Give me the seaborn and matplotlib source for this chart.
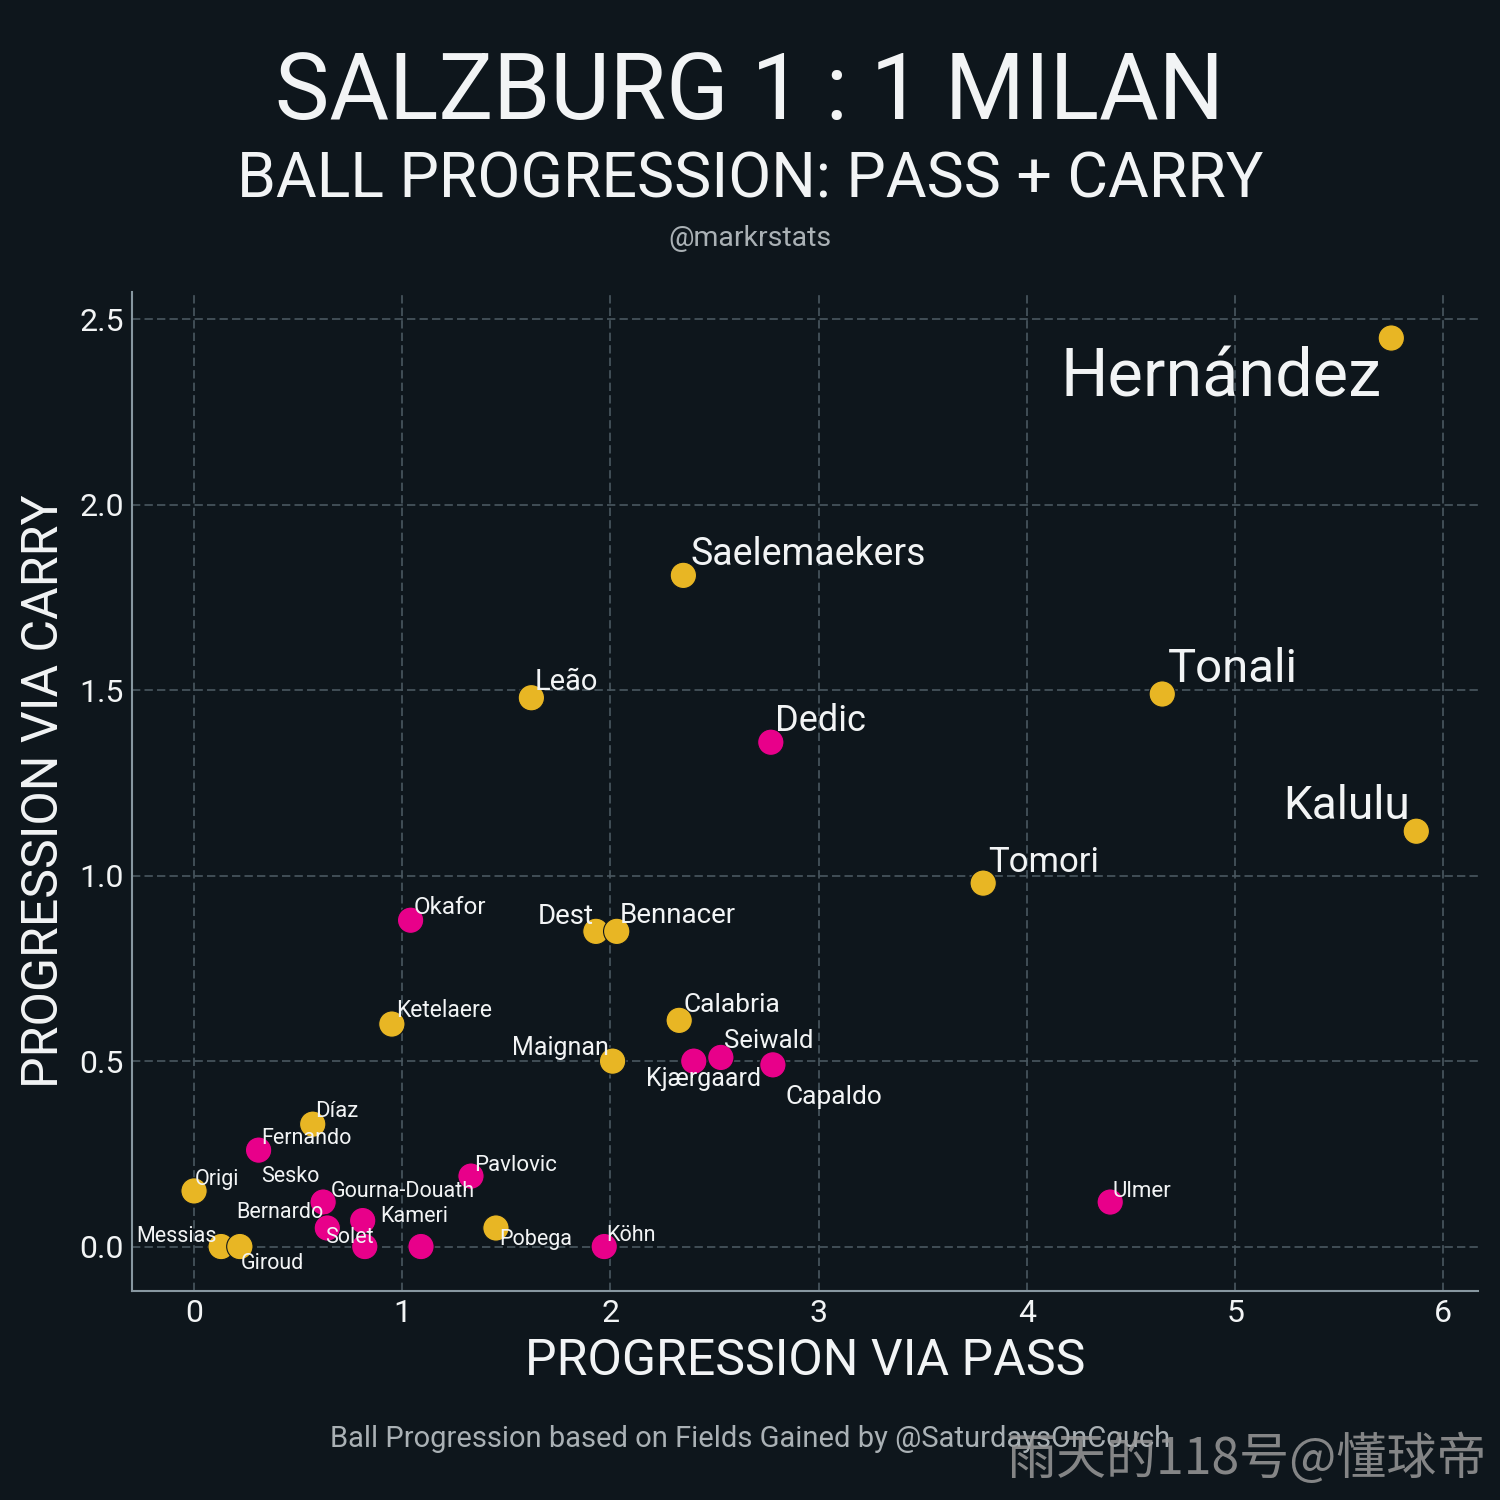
import pandas as pd
import seaborn as sns
import matplotlib.pyplot as plt

# Data
players = ["Hernández", "Saelemaekers", "Leão", "Tonali", "Dedic", "Kalulu",
           "Tomori", "Okafor", "Dest", "Bennacer", "Ketelaere", "Calabria",
           "Maignan", "Kjærgaard", "Seiwald", "Capaldo", "Díaz", "Fernando",
           "Origi", "Messias", "Giroud", "Sesko", "Gourna-Douath", "Bernardo",
           "Solet", "Kameri", "Pavlovic", "Pobega", "Köhn", "Ulmer"]
teams = ["Milan", "Milan", "Milan", "Milan", "Salzburg", "Milan",
         "Milan", "Salzburg", "Milan", "Milan", "Milan", "Milan",
         "Milan", "Salzburg", "Salzburg", "Salzburg", "Milan", "Salzburg",
         "Milan", "Milan", "Milan", "Salzburg", "Salzburg", "Salzburg",
         "Salzburg", "Salzburg", "Salzburg", "Milan", "Salzburg", "Salzburg"]
via_pass = [5.75, 2.35, 1.62, 4.65, 2.77, 5.87,
            3.79, 1.04, 1.93, 2.03, 0.95, 2.33,
            2.01, 2.40, 2.53, 2.78, 0.57, 0.31,
            0.00, 0.13, 0.22, 0.62, 0.81, 0.64,
            0.82, 1.09, 1.33, 1.45, 1.97, 4.40]
via_carry = [2.45, 1.81, 1.48, 1.49, 1.36, 1.12,
             0.98, 0.88, 0.85, 0.85, 0.60, 0.61,
             0.50, 0.50, 0.51, 0.49, 0.33, 0.26,
             0.15, 0.00, 0.00, 0.12, 0.07, 0.05,
             0.00, 0.00, 0.19, 0.05, 0.00, 0.12]

df = pd.DataFrame({"player": players, "team": teams,
                   "pass": via_pass, "carry": via_carry})

# Label styling: font size and placement (ha, dx px, dy px)
label_size = {"Hernández": 48, "Tonali": 34, "Kalulu": 33, "Tomori": 25,
              "Saelemaekers": 27, "Dedic": 26, "Leão": 21, "Dest": 20,
              "Bennacer": 20, "Okafor": 17.5, "Calabria": 19, "Maignan": 18,
              "Kjærgaard": 18, "Seiwald": 18.5, "Capaldo": 19, "Ketelaere": 16.5,
              "Pavlovic": 16, "Köhn": 15.5, "Ulmer": 16, "Díaz": 16}
label_pos = {"Hernández": ("right", -10, -58), "Saelemaekers": ("left", 7, 10),
             "Leão": ("left", 3, 8), "Tonali": ("left", 6, 12),
             "Dedic": ("left", 4, 11), "Kalulu": ("right", -6, 12),
             "Tomori": ("left", 5, 11), "Okafor": ("left", 3, 6),
             "Dest": ("right", -2, 7), "Bennacer": ("left", 3, 8),
             "Ketelaere": ("left", 4, 7), "Calabria": ("left", 4, 8),
             "Maignan": ("right", -4, 6), "Kjærgaard": ("left", -48, -25),
             "Seiwald": ("left", 3, 9), "Capaldo": ("left", 13, -39),
             "Pobega": ("left", 3, -17), "Köhn": ("left", 2, 6),
             "Pavlovic": ("left", 3, 5), "Díaz": ("left", 2, 7),
             "Fernando": ("left", 3, 6), "Origi": ("left", 1, 6),
             "Messias": ("right", -4, 5), "Giroud": ("left", 1, -22),
             "Ulmer": ("left", 2, 5), "Sesko": ("left", -62, 20),
             "Gourna-Douath": ("left", -32, 24), "Bernardo": ("right", -4, 10),
             "Solet": ("left", -40, 4), "Kameri": ("left", -41, 25)}

bg = "#0e161c"
fg = "#f2f4f5"
palette = {"Milan": "#e8b624", "Salzburg": "#e8008a"}

sns.set_theme(style="dark")
plt.rcParams["font.family"] = ["Roboto", "DejaVu Sans"]

fig, ax = plt.subplots(figsize=(15, 15), dpi=100)
fig.patch.set_facecolor(bg)
ax.set_facecolor(bg)
fig.subplots_adjust(left=0.088, right=0.985, bottom=0.1393, top=0.8053)

ax.grid(True, color="#4a5860", linestyle=(0, (5, 2.5)), linewidth=1.2)
ax.set_axisbelow(True)

sns.scatterplot(data=df, x="pass", y="carry", hue="team", palette=palette,
                s=360, edgecolor=bg, linewidth=0.8, legend=False, ax=ax, zorder=3)

for _, r in df.iterrows():
    ha, dx, dy = label_pos[r["player"]]
    ax.annotate(r["player"], (r["pass"], r["carry"]), xytext=(dx, dy),
                textcoords="offset pixels", ha=ha, va="baseline",
                fontsize=label_size.get(r["player"], 15.5), color=fg, zorder=4)

ax.set_xlim(-0.298, 6.164)
ax.set_ylim(-0.12, 2.574)
ax.set_xticks([0, 1, 2, 3, 4, 5, 6])
ax.set_yticks([0.0, 0.5, 1.0, 1.5, 2.0, 2.5])
ax.set_yticklabels(["0.0", "0.5", "1.0", "1.5", "2.0", "2.5"])
ax.tick_params(axis="both", length=0, labelsize=23, labelcolor=fg, pad=6)

for side in ["top", "right"]:
    ax.spines[side].set_visible(False)
for side in ["left", "bottom"]:
    ax.spines[side].set_visible(True)
    ax.spines[side].set_color("#8797a0")
    ax.spines[side].set_linewidth(1.5)

ax.set_xlabel("PROGRESSION VIA PASS", fontsize=36, color=fg, labelpad=6)
ax.set_ylabel("PROGRESSION VIA CARRY", fontsize=36, color=fg, labelpad=8)

fig.text(0.5, 0.921, "SALZBURG 1 : 1 MILAN", ha="center", va="baseline",
         fontsize=66, color=fg)
fig.text(0.5, 0.868, "BALL PROGRESSION: PASS + CARRY", ha="center",
         va="baseline", fontsize=45, color=fg)
fig.text(0.5, 0.836, "@markrstats", ha="center", va="baseline",
         fontsize=20.5, color="#aab1b5")
fig.text(0.5, 0.0353, "Ball Progression based on Fields Gained by @SaturdaysOnCouch",
         ha="center", va="baseline", fontsize=21, color="#aab1b5")
fig.text(0.991, 0.0093, "雨天的118号@懂球帝", ha="right", va="bottom",
         fontsize=36, color="#9a9a9a", alpha=0.85,
         family=["Noto Sans CJK SC", "DejaVu Sans"])

fig.savefig("out.png", dpi=100, facecolor=bg)
